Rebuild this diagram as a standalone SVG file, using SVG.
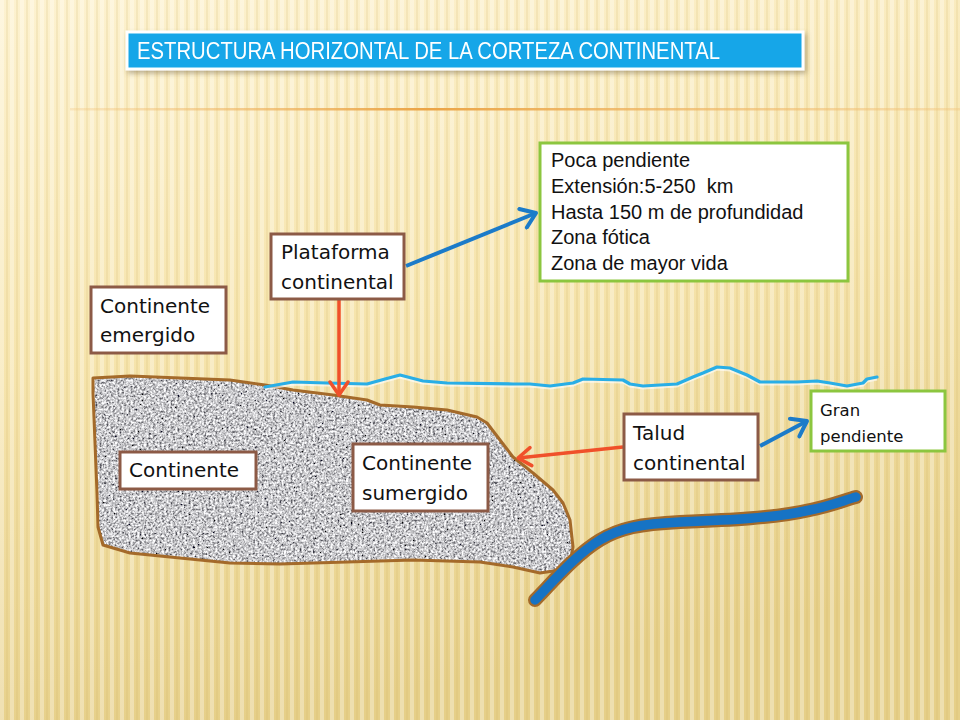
<svg xmlns="http://www.w3.org/2000/svg" width="960" height="720" viewBox="0 0 960 720">
<style>
.lbl{fill:#fff;stroke:#8c5a46;stroke-width:3}
.grn{fill:#fff;stroke:#8cc63f;stroke-width:3}
.t{font-family:"DejaVu Sans","Liberation Sans",sans-serif;font-size:20px;fill:#111}
.ti{font-family:"Liberation Sans",Arial,sans-serif;font-size:20px;fill:#111;white-space:pre}
.red{stroke:#f0502a;stroke-width:3.5;fill:none}
.blue{stroke:#1b7bc9;stroke-width:4;fill:none}
</style>
<defs>
<linearGradient id="bg" x1="0" y1="0" x2="0.25" y2="1">
<stop offset="0" stop-color="#fdf2d0"/>
<stop offset="0.5" stop-color="#f6e4ac"/>
<stop offset="1" stop-color="#e6cf88"/>
</linearGradient>
<pattern id="stripes" width="10" height="720" patternUnits="userSpaceOnUse">
<rect x="0" y="0" width="4" height="720" fill="#ffffff" opacity="0.33"/>
<rect x="6" y="0" width="2" height="720" fill="#c9a95a" opacity="0.14"/>
</pattern>
<linearGradient id="hl" x1="0" y1="0" x2="1" y2="0">
<stop offset="0" stop-color="#f2c37a" stop-opacity="0.3"/>
<stop offset="0.4" stop-color="#eba446"/>
<stop offset="1" stop-color="#f2c37a" stop-opacity="0.4"/>
</linearGradient>
<filter id="granite" x="0" y="0" width="100%" height="100%">
<feTurbulence type="fractalNoise" baseFrequency="0.45" numOctaves="3" seed="4" result="n"/>
<feColorMatrix in="n" type="matrix" values="1.8 0 0 0 -0.32  1.8 0 0 0 -0.32  1.8 0 0 0 -0.3  0 0 0 0 1" result="g"/>
<feComposite in="g" in2="SourceGraphic" operator="in"/>
</filter>
<filter id="sh" x="-5%" y="-20%" width="110%" height="160%">
<feDropShadow dx="2" dy="3" stdDeviation="2.5" flood-color="#6b5a30" flood-opacity="0.45"/>
</filter>
<marker id="ar" markerUnits="userSpaceOnUse" markerWidth="24" markerHeight="24" refX="16" refY="12" orient="auto">
<path d="M3,3 L16,12 L3,21" fill="none" stroke="#f0502a" stroke-width="3.5" stroke-linejoin="round" stroke-linecap="round"/>
</marker>
<marker id="ab" markerUnits="userSpaceOnUse" markerWidth="24" markerHeight="24" refX="18" refY="12" orient="auto">
<path d="M4,2 L18,12 L4,22" fill="none" stroke="#1b7bc9" stroke-width="4" stroke-linejoin="round" stroke-linecap="round"/>
</marker>
</defs>

<rect width="960" height="720" fill="url(#bg)"/>
<rect width="960" height="720" fill="url(#stripes)"/>
<rect x="70" y="108" width="890" height="2.5" fill="url(#hl)"/>

<g id="title" filter="url(#sh)">
<rect x="127" y="32" width="676" height="37" fill="#12a6e8" stroke="#ffffff" stroke-width="3"/>
<text x="137" y="59" font-family="Liberation Sans, Arial, sans-serif" font-size="23" fill="#ffffff" textLength="583" lengthAdjust="spacingAndGlyphs">ESTRUCTURA HORIZONTAL DE LA CORTEZA CONTINENTAL</text>
</g>

<g id="continente-shape">
<path d="M93,378 L130,376 L180,378 L230,380 L265,385 L293,390 L333,395 L367,400 L380,405 L413,407 L447,410 L477,417 L487,423 L500,440 L513,457 L533,473 L553,490 L563,503 L570,520 L573,547 L570,563 L560,570 L540,573 L513,567 L480,562 L413,560 L347,562 L280,564 L230,563 L180,558 L130,553 L103,545 L98,527 L97,493 L95,443 L93,393 Z" fill="#999" filter="url(#granite)"/>
<path d="M93,378 L130,376 L180,378 L230,380 L265,385 L293,390 L333,395 L367,400 L380,405 L413,407 L447,410 L477,417 L487,423 L500,440 L513,457 L533,473 L553,490 L563,503 L570,520 L573,547 L570,563 L560,570 L540,573 L513,567 L480,562 L413,560 L347,562 L280,564 L230,563 L180,558 L130,553 L103,545 L98,527 L97,493 L95,443 L93,393 Z" fill="none" stroke="#a46a2a" stroke-width="3" stroke-linejoin="round"/>
</g>

<g id="agua">
<path d="M265,387 L293,382 L327,383 L367,384 L385,379 L400,375 L423,381 L447,383 L513,384 L530,384 L550,386 L573,383 L583,379 L623,380 L630,384 L643,386 L677,384 L693,377 L703,373 L717,367 L730,368 L747,375 L760,382 L797,382 L817,381 L830,383 L847,386 L863,383 L867,379 L877,377" fill="none" stroke="#ffffff" stroke-opacity="0.6" stroke-width="3" transform="translate(0,2)" stroke-linejoin="round"/>
<path d="M265,387 L293,382 L327,383 L367,384 L385,379 L400,375 L423,381 L447,383 L513,384 L530,384 L550,386 L573,383 L583,379 L623,380 L630,384 L643,386 L677,384 L693,377 L703,373 L717,367 L730,368 L747,375 L760,382 L797,382 L817,381 L830,383 L847,386 L863,383 L867,379 L877,377" fill="none" stroke="#29aee6" stroke-width="3.2" stroke-linejoin="round" stroke-linecap="round"/>
</g>

<g id="canal">
<path d="M535,600 C550,585 575,555 600,540 C620,528 640,524 680,522 C730,520 775,518 810,510 C830,506 845,500 856,497" fill="none" stroke="#a46a2a" stroke-width="14" stroke-linecap="round"/>
<path d="M535,600 C550,585 575,555 600,540 C620,528 640,524 680,522 C730,520 775,518 810,510 C830,506 845,500 856,497" fill="none" stroke="#1673c4" stroke-width="9.5" stroke-linecap="round"/>
</g>

<g id="connectors">
<line class="blue" x1="406" y1="266" x2="536" y2="213" marker-end="url(#ab)"/>
<line class="red" x1="339" y1="300" x2="339" y2="395" marker-end="url(#ar)"/>
<line class="red" x1="623" y1="447" x2="518" y2="458" marker-end="url(#ar)"/>
<line class="blue" x1="760" y1="446" x2="807" y2="421" marker-end="url(#ab)"/>
</g>

<g id="plataforma">
<rect class="lbl" x="271" y="234" width="133" height="65"/>
<text class="t" x="281" y="259">Plataforma</text>
<text class="t" x="281" y="289">continental</text>
</g>

<g id="info-plataforma">
<rect class="grn" x="540" y="143" width="308" height="138"/>
<text class="ti" x="551" y="167">Poca pendiente</text>
<text class="ti" x="551" y="193">Extensión:5-250  km</text>
<text class="ti" x="551" y="219">Hasta 150 m de profundidad</text>
<text class="ti" x="551" y="244">Zona fótica</text>
<text class="ti" x="551" y="270">Zona de mayor vida</text>
</g>

<g id="continente-emergido">
<rect class="lbl" x="91" y="287" width="135" height="66"/>
<text class="t" x="100" y="313">Continente</text>
<text class="t" x="100" y="342">emergido</text>
</g>

<g id="continente">
<rect class="lbl" x="120" y="452" width="136" height="37"/>
<text class="t" x="129" y="477">Continente</text>
</g>

<g id="continente-sumergido">
<rect class="lbl" x="353" y="444" width="135" height="67"/>
<text class="t" x="362" y="470">Continente</text>
<text class="t" x="362" y="500">sumergido</text>
</g>

<g id="talud">
<rect class="lbl" x="624" y="414" width="134" height="66"/>
<text class="t" x="633" y="440">Talud</text>
<text class="t" x="633" y="470">continental</text>
</g>

<g id="gran-pendiente">
<rect class="grn" x="811" y="391" width="134" height="60"/>
<text class="t" x="820" y="416" style="font-size:16.5px">Gran</text>
<text class="t" x="820" y="442" style="font-size:16.5px">pendiente</text>
</g>
</svg>
